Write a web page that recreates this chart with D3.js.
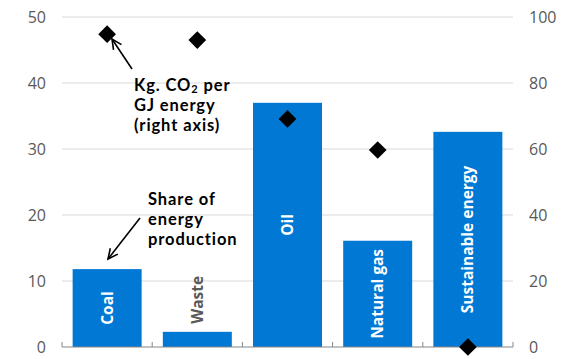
<!DOCTYPE html>
<html lang="en">
<head>
<meta charset="UTF-8">
<title>Energy share and CO2</title>
<script src="https://d3js.org/d3.v7.min.js"></script>
<style>
  body { margin: 0; background: #fff; }
  text { font-family: "Open Sans", "Noto Sans", sans-serif; }
  .tick text { fill: #595959; font-size: 16px; }
  .note { font-family: Lato, "Open Sans", sans-serif; font-size: 16.5px; font-weight: bold; fill: #000; letter-spacing: 0.9px; }
</style>
</head>
<body>
<div id="chart"></div>
<script>
// data
const categories = ["Coal", "Waste", "Oil", "Natural gas", "Sustainable energy"];
const sharePct = [11.8, 2.3, 37.0, 16.1, 32.6];      // left axis
const co2PerGJ = [94.8, 93.0, 69.1, 59.7, 0];         // right axis
const leftTicks = [0, 10, 20, 30, 40, 50];
const rightTicks = [0, 20, 40, 60, 80, 100];

const W = 566, H = 359;
const margin = { top: 17, right: 53, bottom: 12, left: 62 };
const width = W - margin.left - margin.right;
const height = H - margin.top - margin.bottom;

const svg = d3.select("#chart").append("svg")
    .attr("width", W).attr("height", H)
  .append("g")
    .attr("transform", `translate(${margin.left},${margin.top})`);

const x = d3.scaleBand().domain(categories).range([0, width]).paddingInner(0.235).paddingOuter(0.118);
const xb = d3.scaleBand().domain(categories).range([0, width]);
const yL = d3.scaleLinear().domain([0, 50]).range([height, 0]);
const yR = d3.scaleLinear().domain([0, 100]).range([height, 0]);

// gridlines
svg.append("g")
  .selectAll("line")
  .data(leftTicks.filter(d => d > 0))
  .join("line")
    .attr("x1", 0).attr("x2", width)
    .attr("y1", d => yL(d)).attr("y2", d => yL(d))
    .attr("stroke", "#d9d9d9").attr("stroke-width", 1);

// left axis labels
const gl = svg.append("g").call(d3.axisLeft(yL).tickValues(leftTicks).tickSize(0).tickPadding(16));
gl.select(".domain").remove();

// right axis labels
const gr = svg.append("g").attr("transform", `translate(${width},0)`)
  .call(d3.axisRight(yR).tickValues(rightTicks).tickSize(0).tickPadding(16));
gr.select(".domain").remove();

// bars
svg.selectAll(".bar")
  .data(categories)
  .join("rect")
    .attr("class", "bar")
    .attr("x", d => x(d))
    .attr("width", x.bandwidth())
    .attr("y", (d, i) => yL(sharePct[i]))
    .attr("height", (d, i) => height - yL(sharePct[i]))
    .attr("fill", "#0078d4");

// bottom axis with boundary ticks
svg.append("line")
  .attr("x1", 0).attr("x2", width)
  .attr("y1", height).attr("y2", height)
  .attr("stroke", "#868686").attr("stroke-width", 1);
const bounds = categories.map(d => xb(d)).concat([width]);
svg.append("g").selectAll("line")
  .data(bounds)
  .join("line")
    .attr("x1", d => d).attr("x2", d => d)
    .attr("y1", height - 5).attr("y2", height)
    .attr("stroke", "#868686");

// bar labels
svg.selectAll(".blabel")
  .data(categories)
  .join("text")
    .attr("class", "blabel")
    .attr("transform", (d, i) => {
      const cx = x(d) + x.bandwidth() / 2;
      const top = yL(sharePct[i]);
      const cy = d === "Waste" ? top - 8 : (top + height) / 2;
      return `translate(${cx},${cy}) rotate(-90)`;
    })
    .attr("text-anchor", d => d === "Waste" ? "start" : "middle")
    .attr("dy", "0.35em")
    .attr("font-size", 15.5)
    .attr("font-weight", "bold")
    .attr("fill", d => d === "Waste" ? "#595959" : "#fff")
    .text(d => d);

// diamonds
svg.selectAll(".dia")
  .data(categories)
  .join("path")
    .attr("class", "dia")
    .attr("d", d3.symbol(d3.symbolDiamond2, 200))
    .attr("transform", (d, i) => `translate(${xb(d) + xb.bandwidth() / 2},${yR(co2PerGJ[i])})`)
    .attr("fill", "#000");

// annotations
const px = v => v - margin.left, py = v => v - margin.top;

function arrow(x1, y1, x2, y2) {
  svg.append("line")
    .attr("x1", px(x1)).attr("y1", py(y1)).attr("x2", px(x2)).attr("y2", py(y2))
    .attr("stroke", "#000").attr("stroke-width", 1.6);
  const a = Math.atan2(y2 - y1, x2 - x1);
  const L = 11, s = 0.45;
  const pts = [a + Math.PI - s, a + Math.PI + s].map(t => [x2 + L * Math.cos(t), y2 + L * Math.sin(t)]);
  svg.append("path")
    .attr("d", `M${px(pts[0][0])},${py(pts[0][1])}L${px(x2)},${py(y2)}L${px(pts[1][0])},${py(pts[1][1])}`)
    .attr("fill", "none").attr("stroke", "#000").attr("stroke-width", 1.6);
}

arrow(132, 69, 112, 39);
arrow(140, 218, 108, 259);

const co2 = svg.append("text").attr("class", "note")
  .attr("x", px(134)).attr("y", py(91));
co2.append("tspan").text("Kg. CO");
co2.append("tspan").attr("font-size", 11).attr("dy", 2).text("2");
co2.append("tspan").attr("dy", -2).text(" per");
svg.append("text").attr("class", "note").attr("x", px(134)).attr("y", py(111)).text("GJ energy");
svg.append("text").attr("class", "note").attr("x", px(134)).attr("y", py(131)).text("(right axis)");

["Share of", "energy", "production"].forEach((t, i) => {
  svg.append("text").attr("class", "note")
    .attr("x", px(148)).attr("y", py(205 + i * 20)).text(t);
});
</script>
</body>
</html>
